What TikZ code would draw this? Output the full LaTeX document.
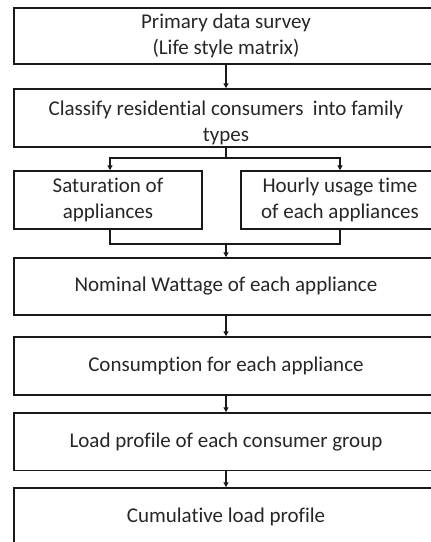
\documentclass[tikz,border=0pt]{standalone}
\usepackage{fontspec}
\setmainfont[Ligatures=NoCommon]{Carlito}
\usetikzlibrary{arrows.meta}
\begin{document}
\begin{tikzpicture}[x=1pt,y=-1pt,
  txt/.style={align=center,inner sep=0pt,font=\fontsize{21}{26}\selectfont,text=black!85},
  box/.style={txt,draw=black!90,line width=1.5pt},
  conn/.style={line width=1.2pt,draw=black!90},
  arr/.style={conn,-{Triangle[width=5pt,length=5pt]}}]
\useasboundingbox (0,0) rectangle (431,542);
\clip (0,0) rectangle (431,542);
\node[box,minimum width=424pt,minimum height=56pt] (b1) at (226,36) {Primary data survey\\(Life style matrix)};
\node[box,minimum width=424pt,minimum height=58pt] (b2) at (226,118) {};
\node[txt] (t2) at ([yshift=-5pt]b2.center) {Classify residential consumers\ \ into family\\types};
\node[box,minimum width=188pt,minimum height=58pt] (b3a) at (108,200) {Saturation of\\appliances};
\node[box,minimum width=198pt,minimum height=58pt] (b3b) at (340,200) {Hourly usage time\\of each appliances};
\node[box,minimum width=424pt,minimum height=57pt] (b4) at (226,286.5) {Nominal Wattage of each appliance};
\node[box,minimum width=424pt,minimum height=58pt] (b5) at (226,366) {Consumption for each appliance};
\node[box,minimum width=424pt,minimum height=57.5pt] (b6) at (226,441.75) {Load profile of each consumer group};
\node[box,minimum width=424pt,minimum height=58pt] (b7) at (226,517) {Cumulative load profile};
\coordinate (s1) at (226,158);
\coordinate (sl) at (110,158);
\coordinate (sr) at (340,158);
\coordinate (m1) at (226,244);
\coordinate (ml) at (110,244);
\coordinate (mr) at (340,244);
\draw[arr] (b1.south) -- (b2.north);
\draw[conn] (b2.south) -- (s1);
\draw[arr] (s1) -- (sl) -- (sl |- b3a.north);
\draw[arr] (s1) -- (sr) -- (sr |- b3b.north);
\draw[conn] (ml |- b3a.south) -- (ml) -- (mr) -- (mr |- b3b.south);
\draw[arr] (m1) -- (b4.north);
\draw[arr] (b4.south) -- (b5.north);
\draw[arr] (b5.south) -- (b6.north);
\draw[arr] (b6.south) -- (b7.north);
\end{tikzpicture}
\end{document}
